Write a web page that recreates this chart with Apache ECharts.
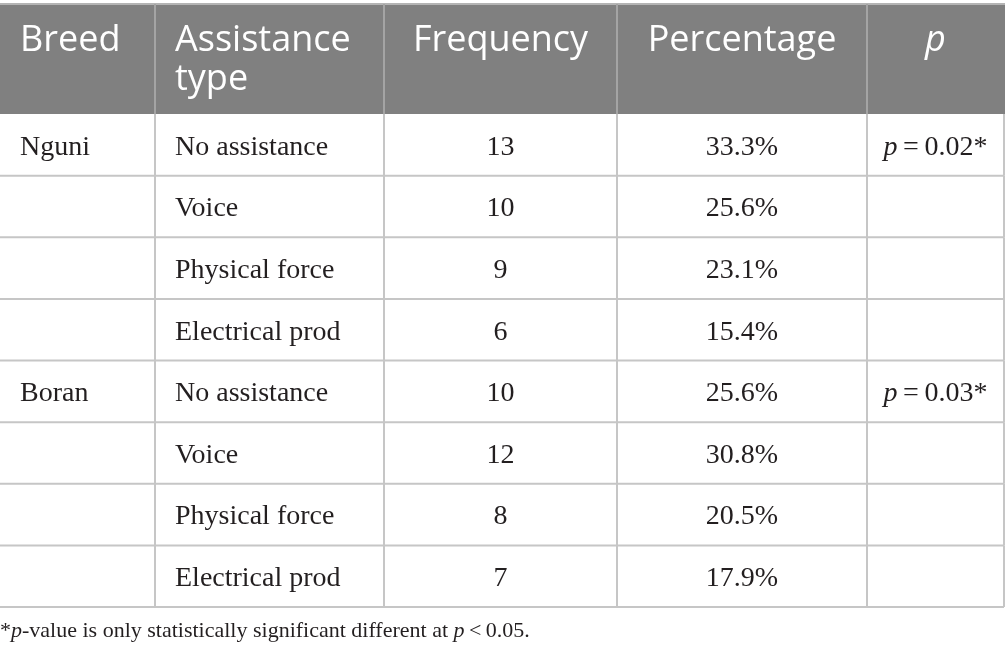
<!DOCTYPE html>
<html>
<head>
<meta charset="utf-8">
<style>
  html, body { margin: 0; padding: 0; background: #fff; }
  #main { width: 1005px; height: 661px; }
</style>
<script src="https://cdn.jsdelivr.net/npm/echarts@6/dist/echarts.min.js"></script>
</head>
<body>
<div id="main"></div>
<script>
// table contents
var headers = ['Breed', 'Assistance\ntype', 'Frequency', 'Percentage', 'p'];
var breeds = ['Nguni', '', '', '', 'Boran', '', '', ''];
var assistanceTypes = ['No assistance', 'Voice', 'Physical force', 'Electrical prod',
                       'No assistance', 'Voice', 'Physical force', 'Electrical prod'];
var frequencies = [13, 10, 9, 6, 10, 12, 8, 7];
var percentages = [33.3, 25.6, 23.1, 15.4, 25.6, 30.8, 20.5, 17.9];
var pValues = ['0.02', '', '', '', '0.03', '', '', ''];
var footnote = '*{i|p}-value is only statistically significant different at {i|p}\u2009<\u20090.05.';

// layout
var colEdges = [0, 155, 384, 617, 867, 1004];
var headTop = 4, headBottom = 114;
var lineColor = '#c6c6c6';
var textColor = '#231f20';
var bodyFont = '28px "Liberation Serif", "DejaVu Serif", serif';
var headFont = '36px "Open Sans", "Noto Sans", sans-serif';

var chart = echarts.init(document.getElementById('main'));

var rowIds = breeds.map(function (b, i) { return 'r' + i; });

function cellTexts(i) {
  var p = pValues[i] ? '{i|p}\u2009=\u2009' + pValues[i] + '*' : '';
  return [breeds[i], assistanceTypes[i], String(frequencies[i]),
          percentages[i].toFixed(1) + '%', p];
}

function renderRow(params, api) {
  var i = params.dataIndex;
  var c = api.coord([0, i]);
  var h = api.size([0, 1])[1];
  var top = c[1] - h / 2, bottom = c[1] + h / 2, mid = c[1] + 2.5;
  var xs = colEdges.map(function (e) { return api.coord([e, i])[0]; });
  var kids = [];
  kids.push({ type: 'line', shape: { x1: xs[0], y1: bottom, x2: xs[5], y2: bottom },
              style: { stroke: lineColor, lineWidth: 2 } });
  for (var k = 1; k < xs.length; k++) {
    kids.push({ type: 'line', shape: { x1: xs[k], y1: top, x2: xs[k], y2: bottom },
                style: { stroke: lineColor, lineWidth: 2 } });
  }
  cellTexts(i).forEach(function (t, k) {
    if (!t) return;
    var left = k < 2;
    kids.push({
      type: 'text',
      style: {
        text: t,
        rich: { i: { fontStyle: 'italic', fontFamily: 'Liberation Serif', fontSize: 28, fill: textColor } },
        x: left ? xs[k] + 20 : (xs[k] + xs[k + 1]) / 2,
        y: mid, font: bodyFont, fill: textColor,
        align: left ? 'left' : 'center', verticalAlign: 'middle'
      }
    });
  });
  return { type: 'group', children: kids };
}

// header band
var headGraphics = [{
  type: 'rect', shape: { x: 0, y: headTop, width: 1005, height: headBottom - headTop },
  style: { fill: '#808080' }
}, {
  type: 'line', shape: { x1: 0, y1: headTop, x2: 1005, y2: headTop },
  style: { stroke: '#b4b4b4', lineWidth: 2 }
}];
for (var k = 1; k < colEdges.length - 1; k++) {
  headGraphics.push({
    type: 'line', shape: { x1: colEdges[k], y1: headTop, x2: colEdges[k], y2: headBottom },
    style: { stroke: '#a4a4a4', lineWidth: 2 }
  });
}
headers.forEach(function (h, k) {
  var left = k < 2;
  headGraphics.push({
    type: 'text',
    style: {
      text: h,
      x: left ? colEdges[k] + 20 : (colEdges[k] + colEdges[k + 1]) / 2,
      y: 21,
      font: (k === 4 ? 'italic ' : '') + headFont,
      fill: '#ffffff', lineHeight: 39,
      align: left ? 'left' : 'center', verticalAlign: 'top'
    }
  });
});
headGraphics.push({
  type: 'text',
  style: {
    text: footnote, x: 0, y: 631, font: '22px "Liberation Serif", serif', fill: textColor,
    verticalAlign: 'middle',
    rich: { i: { fontStyle: 'italic', fontFamily: 'Liberation Serif', fontSize: 22, fill: textColor } }
  }
});

chart.setOption({
  animation: false,
  grid: { left: 0, right: 0, top: headBottom, bottom: 661 - 607 },
  xAxis: { type: 'value', min: 0, max: 1005, show: false },
  yAxis: { type: 'category', data: rowIds, inverse: true, show: false },
  graphic: headGraphics,
  series: [{
    type: 'custom',
    renderItem: renderRow,
    encode: { x: 0, y: 1 },
    data: rowIds.map(function (id, i) { return [0, i]; })
  }]
});
</script>
</body>
</html>
